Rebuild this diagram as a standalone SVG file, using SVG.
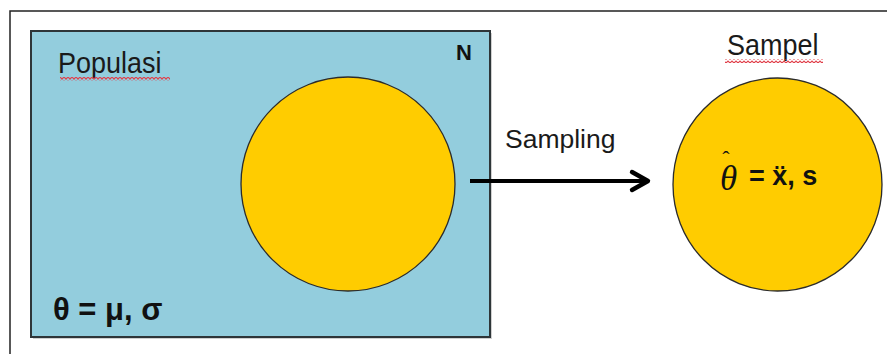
<svg xmlns="http://www.w3.org/2000/svg" width="887" height="354" viewBox="0 0 887 354">
  <style>
    .lbl { font-family: "Liberation Sans", Arial, sans-serif; fill: #1a1a1a; }
    .bold { font-family: "Liberation Sans", Arial, sans-serif; font-weight: bold; fill: #111; }
    .disk { fill: #ffcc00; stroke: #2b2b2b; stroke-width: 1.3; }
  </style>
  <defs>
    <marker id="chevron" viewBox="0 0 12 12" refX="10" refY="6" markerWidth="6" markerHeight="6" markerUnits="strokeWidth" orient="auto">
      <path d="M2,1.5 L10,6 L2,10.5" fill="none" stroke="#000" stroke-width="2.2" stroke-linecap="round" stroke-linejoin="round"/>
    </marker>
    <!-- spell-check style wavy underline -->
    <pattern id="wave" width="4" height="4" patternUnits="userSpaceOnUse">
      <path d="M0,0.8 L2,3.2 L4,0.8" fill="none" stroke="#e0404a" stroke-width="1.1"/>
    </pattern>
  </defs>

  <rect width="887" height="354" fill="#ffffff"/>

  <!-- outer frame (top and left edges) -->
  <path d="M10,354 L10,11 L887,11" fill="none" stroke="#222" stroke-width="1.5"/>

  <!-- population -->
  <g id="populasi">
    <rect x="33" y="33" width="459" height="306" fill="#b0b0b0" opacity="0.6"/>
    <rect x="31" y="31" width="459" height="306" fill="#93cddd" stroke="#2e3538" stroke-width="2"/>
    <g transform="translate(58,73) scale(1,1.12)">
      <text class="lbl" x="0" y="0" font-size="27">Populasi</text>
    </g>
    <rect x="60" y="77" width="110" height="4" fill="url(#wave)"/>
    <text class="bold" x="456" y="60" font-size="22">N</text>
    <text class="bold" x="53" y="320" font-size="31">θ = μ, σ</text>
  </g>

  <g id="subset">
    <circle class="disk" cx="348" cy="184" r="107"/>
  </g>

  <!-- connector -->
  <g id="connectors">
    <line x1="470" y1="181" x2="648" y2="181" stroke="#000" stroke-width="4" marker-end="url(#chevron)"/>
    <text class="lbl" x="505" y="148" font-size="26.5">Sampling</text>
  </g>

  <!-- sample -->
  <g id="sampel">
    <g transform="translate(727,55) scale(1,1.12)">
      <text class="lbl" x="0" y="0" font-size="27">Sampel</text>
    </g>
    <rect x="725" y="59" width="98" height="4" fill="url(#wave)"/>
    <ellipse class="disk" cx="777.5" cy="184.5" rx="104.5" ry="106.5"/>
    <!-- estimator: italic theta with a hat, then the sample statistics -->
    <text x="720" y="190" font-family="'Liberation Serif', 'Times New Roman', serif" font-style="italic" font-size="35" fill="#111">θ<tspan dx="-15" dy="-24" font-size="22" font-style="normal">ˆ</tspan></text>
    <text class="bold" x="749" y="185" font-size="27">= ẍ, s</text>
  </g>
</svg>
